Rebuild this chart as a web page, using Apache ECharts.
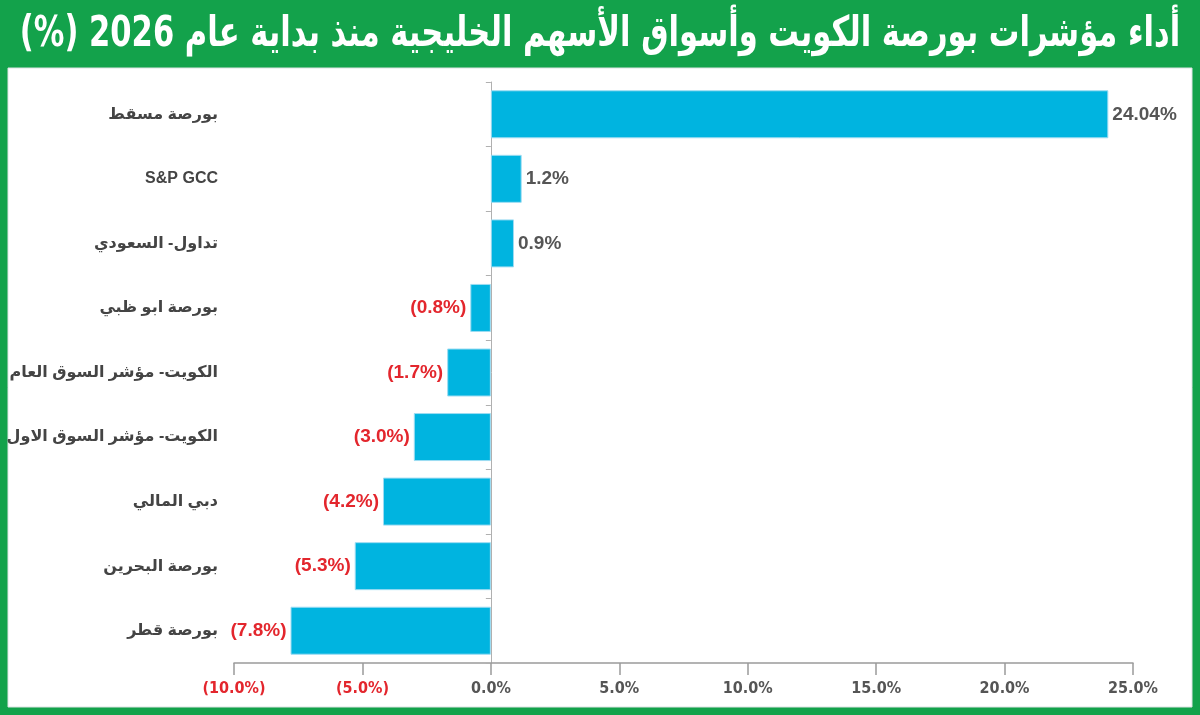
<!DOCTYPE html>
<html>
<head>
<meta charset="utf-8">
<script src="https://cdn.jsdelivr.net/npm/echarts@6/dist/echarts.min.js"></script>
<style>
  html, body { margin: 0; padding: 0; background: #13a24b; }
  #main { width: 1200px; height: 715px; }
</style>
</head>
<body>
<div id="main"></div>
<script>
// categories top to bottom
var markets = ['بورصة مسقط', 'S&P GCC', 'تداول- السعودي', 'بورصة ابو ظبي', 'الكويت- مؤشر السوق العام', 'الكويت- مؤشر السوق الاول', 'دبي المالي', 'بورصة البحرين', 'بورصة قطر'];
var ytdChange = [24.04, 1.2, 0.9, -0.8, -1.7, -3.0, -4.2, -5.3, -7.8];
var axisTicks = { min: -10, max: 25, step: 5 };

var green = '#13a24b';
var red = '#e3262d';
var grey = '#555555';

function pct(v, digits) {
    var s = Math.abs(v).toFixed(digits) + '%';
    return v < 0 ? '(' + s + ')' : s;
}

var barData = ytdChange.map(function (v) {
    return {
        value: v,
        label: {
            position: v < 0 ? 'left' : 'right',
            color: v < 0 ? red : grey,
            formatter: pct(v, v === 24.04 ? 2 : 1)
        }
    };
});

var myChart = echarts.init(document.getElementById('main'));
myChart.setOption({
    backgroundColor: green,
    animation: false,
    graphic: [{
        type: 'rect',
        z: -1,
        shape: { x: 8, y: 68, width: 1184, height: 639 },
        style: { fill: '#ffffff', stroke: '#dde3e3', lineWidth: 1 }
    }, {
        // title, squeezed horizontally like the condensed original
        type: 'text',
        x: 600,
        y: 35,
        scaleX: 0.85,
        scaleY: 1.05,
        style: {
            // RLM marks keep "(%)" at the end of the right-to-left line
            text: '\u200Fأداء مؤشرات بورصة الكويت وأسواق الأسهم الخليجية منذ بداية عام 2026 (%)\u200F',
            fill: '#ffffff',
            fontSize: 40,
            fontWeight: 'bold',
            fontFamily: '"DejaVu Sans Condensed", "DejaVu Sans", sans-serif',
            align: 'center',
            verticalAlign: 'middle'
        }
    }],
    grid: { left: 234, right: 67, top: 82, bottom: 52, outerBoundsMode: 'none' },
    xAxis: {
        type: 'value',
        min: axisTicks.min,
        max: axisTicks.max,
        interval: axisTicks.step,
        splitLine: { show: false },
        axisLine: { show: true, lineStyle: { color: '#9a9a9a', width: 1.5 } },
        axisTick: { show: true, length: 12, lineStyle: { color: '#9a9a9a', width: 1.5 } },
        axisLabel: {
            margin: 18,
            fontSize: 16,
            fontWeight: 'bold',
            fontFamily: '"DejaVu Sans Condensed", "Liberation Sans", sans-serif',
            color: function (v) { return v < 0 ? red : grey; },
            formatter: function (v) { return pct(v, 1); }
        }
    },
    yAxis: {
        type: 'category',
        inverse: true,
        data: markets,
        axisLine: { show: true, onZero: true, lineStyle: { color: '#b0b0b0', width: 1 } },
        axisTick: { show: true, length: 5, lineStyle: { color: '#b0b0b0' } },
        axisLabel: {
            margin: 16,
            fontSize: 16,
            fontWeight: 'bold',
            color: '#444444',
            fontFamily: '"Liberation Sans", "DejaVu Sans", sans-serif'
        }
    },
    series: [{
        type: 'bar',
        data: barData,
        barWidth: 48,
        itemStyle: { color: '#00b4e0', borderColor: '#9ddcf2', borderWidth: 1 },
        label: {
            show: true,
            distance: 4,
            fontSize: 19,
            fontWeight: 'bold',
            fontFamily: '"Liberation Sans", "DejaVu Sans", sans-serif'
        }
    }]
});
</script>
</body>
</html>
